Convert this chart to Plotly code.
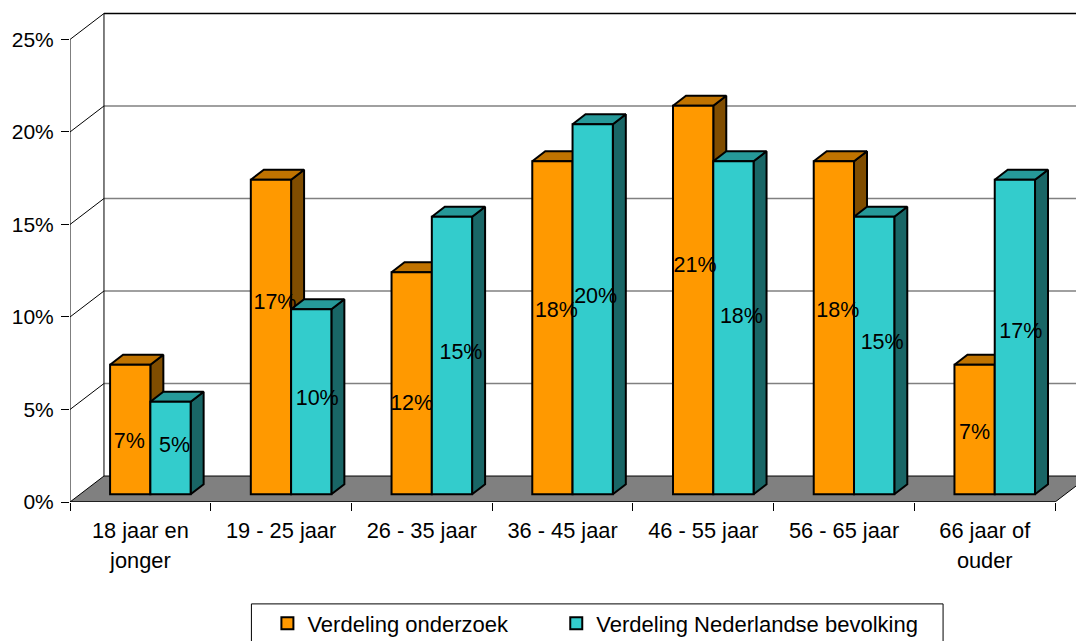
import plotly.graph_objects as go

# Data
categories = ["18 jaar en<br>jonger", "19 - 25 jaar", "26 - 35 jaar", "36 - 45 jaar",
              "46 - 55 jaar", "56 - 65 jaar", "66 jaar of<br>ouder"]
onderzoek = [7, 17, 12, 18, 21, 18, 7]
bevolking = [5, 10, 15, 20, 18, 15, 17]
y_ticks = [0, 5, 10, 15, 20, 25]

# Pixel layout of the fake 3D box
WIDTH, HEIGHT = 1076, 641
LEFT, ZERO_Y = 69.5, 502.5
UNIT_X = 140.8   # px per category
UNIT_Y = 18.52   # px per percent


def px_x(p):
    return p / UNIT_X


def px_y(p):
    return p / UNIT_Y


wall_dx, wall_dy = px_x(34), px_y(26)
bar_dx, bar_dy = px_x(13), px_y(10)
bar_w = px_x(40.3)
bar_base = px_y(7.8)
group_center = 0.5 + px_x(10)
x_max = (WIDTH - LEFT) / UNIT_X
y_max = ZERO_Y / UNIT_Y

# label nudges against the middle of each bar (px right, px up)
nudge_o = [(-1, -13), (4, 33), (0, -21), (4, 16), (2, 33), (4, 16), (0, -4)]
nudge_b = [(4, 1), (6, 2), (9, 2), (3, 12), (8, 10), (8, 12), (6, 4)]

COL = {"o": ("#FF9900", "#C07300", "#804D00"), "b": ("#33CCCC", "#269999", "#196666")}
FONT = "Liberation Sans, Arial, sans-serif"
cat_x = [i + group_center for i in range(7)]
x_o = [x - bar_w / 2 for x in cat_x]
x_b = [x + bar_w / 2 for x in cat_x]


def poly(xs, ys, fill, zorder, color="black", width=2):
    return go.Scatter(x=xs, y=ys, mode="lines", fill="toself", fillcolor=fill,
                      line=dict(color=color, width=width), showlegend=False,
                      hoverinfo="skip", zorder=zorder, cliponaxis=False)


def line(xs, ys, color="black", width=1, clip=True):
    return go.Scatter(x=xs, y=ys, mode="lines", line=dict(color=color, width=width),
                      showlegend=False, hoverinfo="skip", zorder=0, cliponaxis=clip)


def faces(xc, vals, colors, z):
    # top and side faces of every bar, built from the values
    top_x, top_y, side_x, side_y = [], [], [], []
    for x, v in zip(xc, vals):
        l, r = x - bar_w / 2, x + bar_w / 2
        t = v + bar_base
        top_x += [l, r, r + bar_dx, l + bar_dx, l, None]
        top_y += [t, t, t + bar_dy, t + bar_dy, t, None]
        side_x += [r, r + bar_dx, r + bar_dx, r, r, None]
        side_y += [bar_base, bar_base + bar_dy, t + bar_dy, t, bar_base, None]
    return [poly(side_x, side_y, colors[2], z), poly(top_x, top_y, colors[1], z)]


fig = go.Figure()

# floor
fig.add_trace(poly([0, wall_dx, 7 + wall_dx, 7, 0], [0, wall_dy, wall_dy, 0, 0], "#808080", 0, width=1))
fig.data[-1].cliponaxis = True

# back wall and side wall
for t in y_ticks[1:]:
    fig.add_trace(line([wall_dx, x_max], [t + wall_dy, t + wall_dy],
                       color="black" if t == 25 else "#808080", width=1.5))
    fig.add_trace(line([0, wall_dx], [t, t + wall_dy]))
fig.add_trace(line([wall_dx, wall_dx], [wall_dy, 25 + wall_dy]))
fig.add_trace(line([0, 0], [0, 25], clip=False))
fig.add_trace(line([0, 7], [0, 0], clip=False))

# bars
fig.add_traces(faces(x_o, onderzoek, COL["o"], 1))
fig.add_trace(go.Bar(x=x_o, y=onderzoek, base=bar_base, width=bar_w, name="Verdeling onderzoek",
                     marker=dict(color=COL["o"][0], line=dict(color="black", width=2)),
                     zorder=2, hoverinfo="skip", legend="legend"))
fig.add_traces(faces(x_b, bevolking, COL["b"], 3))
fig.add_trace(go.Bar(x=x_b, y=bevolking, base=bar_base, width=bar_w, name="Verdeling Nederlandse bevolking",
                     marker=dict(color=COL["b"][0], line=dict(color="black", width=2)),
                     zorder=4, hoverinfo="skip", legend="legend2"))

# data labels
for xc, vals, nudges in ((x_o, onderzoek, nudge_o), (x_b, bevolking, nudge_b)):
    fig.add_trace(go.Scatter(
        x=[x + px_x(n[0]) for x, n in zip(xc, nudges)],
        y=[v / 2 + bar_base + px_y(n[1]) for v, n in zip(vals, nudges)],
        text=[f"{v}%" for v in vals], mode="text", textposition="middle center",
        textfont=dict(family=FONT, size=21.5, color="black"),
        showlegend=False, hoverinfo="skip", zorder=5, cliponaxis=False))

plot_w = WIDTH - LEFT
plot_h = ZERO_Y


def paper_x(p):
    return (p - LEFT) / plot_w


def paper_y(p):
    return (ZERO_Y - p) / plot_h


span = '<span style="font-size:21.8px">'
ticktext = ["<br>".join(span + part + "</span>" for part in c.split("<br>")) for c in categories]
legend_style = dict(orientation="h", yanchor="top", xanchor="left", y=paper_y(603),
                    bgcolor="rgba(0,0,0,0)", borderwidth=0,
                    font=dict(family=FONT, size=22, color="black"))

fig.update_layout(
    width=WIDTH, height=HEIGHT,
    margin=dict(l=LEFT, r=0, t=0, b=HEIGHT - ZERO_Y, pad=0, autoexpand=False),
    paper_bgcolor="white", plot_bgcolor="white",
    font=dict(family=FONT, size=20, color="black"),
    barmode="overlay", showlegend=True,
    xaxis=dict(range=[0, x_max], tickmode="array", tickvals=[i + 0.5 for i in range(7)],
               ticktext=ticktext, ticks="", showgrid=False, zeroline=False, showline=False,
               tickangle=0, tickfont=dict(family=FONT, size=23, color="black"), ticklabelstandoff=12,
               minor=dict(tickmode="array", tickvals=list(range(8)), ticks="outside", ticklen=8,
                          tickcolor="black", tickwidth=1, showgrid=False)),
    yaxis=dict(range=[0, y_max], tickmode="array", tickvals=y_ticks, ticktext=[f"{t}%" for t in y_ticks],
               ticks="outside", ticklen=8, tickcolor="black", tickwidth=1, showgrid=False,
               zeroline=False, showline=False, tickfont=dict(family=FONT, size=21, color="black"),
               ticklabelstandoff=3),
    legend=dict(legend_style, x=paper_x(267)),
    legend2=dict(legend_style, x=paper_x(556)),
    shapes=[dict(type="rect", xref="paper", yref="paper", x0=paper_x(251), x1=paper_x(943),
                 y0=paper_y(604.5), y1=paper_y(650), line=dict(color="black", width=1),
                 fillcolor="white", layer="below")],
)

# the browser's default body margin would push the chart 8px off
fig.write_html("out.html", config=dict(displayModeBar=False),
               post_script="document.body.style.margin='0';window.dispatchEvent(new Event('resize'));")
